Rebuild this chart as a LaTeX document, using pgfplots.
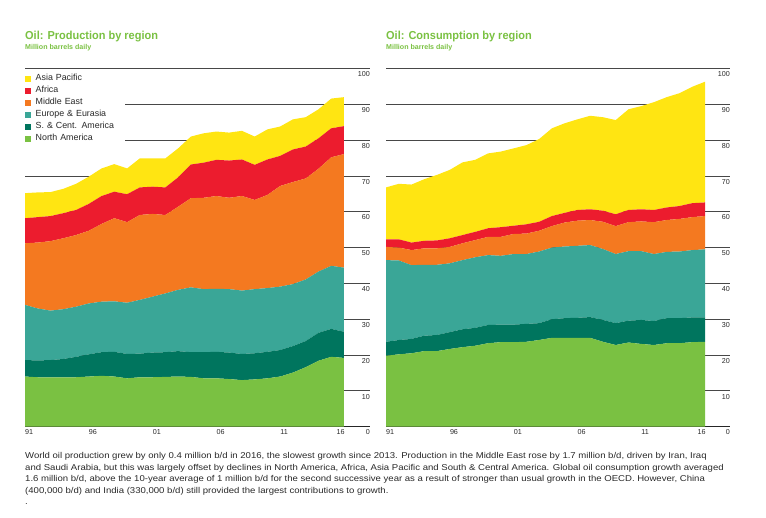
\documentclass[border=0pt]{standalone}
\usepackage{fontspec}
\setmainfont{Liberation Sans}
\newfontfamily\titlefont[FakeStretch=0.95]{Liberation Sans}
\newfontfamily\capfont[FakeStretch=1.13]{Liberation Sans}
\usepackage{pgfplots}
\usepackage{pgfplotstable}
\pgfplotsset{compat=1.18}

\definecolor{cAP}{RGB}{255,229,18}
\definecolor{cAF}{RGB}{236,28,46}
\definecolor{cME}{RGB}{244,121,32}
\definecolor{cEE}{RGB}{58,166,151}
\definecolor{cSCA}{RGB}{0,117,94}
\definecolor{cNA}{RGB}{122,193,66}
\definecolor{ctitle}{RGB}{122,193,66}
\definecolor{ctext}{RGB}{40,40,40}

\pgfplotstableread{
year na sca ee me af ap
1991 14.0 4.6 15.4 17.2 7.0 7.0
1992 13.8 4.7 14.5 18.4 7.1 6.9
1993 13.8 4.8 13.8 19.4 7.0 6.7
1994 13.8 5.1 13.9 19.8 7.0 6.8
1995 13.8 5.7 14.0 20.0 7.0 7.3
1996 14.0 6.2 14.2 20.3 7.5 7.6
1997 14.2 6.6 14.1 21.7 7.8 7.7
1998 14.0 6.9 14.1 23.2 7.4 7.7
1999 13.5 6.8 14.3 22.5 7.8 7.2
2000 13.8 6.6 15.0 23.7 7.7 8.1
2001 13.8 6.9 15.6 23.1 7.6 7.9
2002 13.9 6.9 16.4 21.9 7.7 8.1
2003 14.0 7.1 17.1 23.2 8.2 8.1
2004 13.9 6.9 18.1 24.9 9.4 7.8
2005 13.5 7.3 17.6 25.5 9.8 8.2
2006 13.5 7.4 17.6 25.9 10.1 7.9
2007 13.3 7.4 17.7 25.5 10.4 7.8
2008 13.0 7.3 17.7 26.4 10.2 8.0
2009 13.2 7.3 17.9 24.9 9.8 7.9
2010 13.5 7.4 17.8 26.0 9.9 8.4
2011 14.0 7.4 17.7 28.1 8.4 8.2
2012 15.1 7.4 17.3 28.5 9.1 8.4
2013 16.6 7.3 17.2 28.2 8.9 8.2
2014 18.4 7.8 17.1 28.7 8.5 8.1
2015 19.5 7.8 17.6 30.3 8.1 8.3
2016 19.2 7.3 17.9 31.7 7.8 8.1
}\prodtable

\pgfplotstableread{
year na sca ee me af ap
1991 19.8 3.9 22.8 3.7 2.1 14.5
1992 20.2 4.0 22.2 3.6 2.3 15.5
1993 20.5 4.0 20.6 4.2 2.1 16.2
1994 21.1 4.3 19.8 4.6 2.1 17.2
1995 21.1 4.5 19.6 4.6 2.2 18.3
1996 21.7 4.7 19.2 4.6 2.4 19.1
1997 22.2 5.0 19.3 4.7 2.3 20.3
1998 22.6 5.0 19.7 4.8 2.3 20.1
1999 23.3 5.1 19.5 5.1 2.4 20.9
2000 23.6 4.9 19.2 5.3 2.7 21.1
2001 23.6 4.9 19.7 5.6 2.3 21.6
2002 23.7 5.0 19.5 5.7 2.6 22.1
2003 24.2 4.7 20.0 5.8 2.5 23.1
2004 24.8 5.2 20.0 6.0 2.8 24.5
2005 24.8 5.5 20.0 6.7 2.7 25.0
2006 24.8 5.6 20.1 7.0 3.0 25.3
2007 24.8 5.8 20.1 7.0 3.0 26.1
2008 23.7 6.1 19.8 7.6 3.1 26.1
2009 22.8 6.1 19.3 7.8 3.3 26.3
2010 23.5 6.1 19.4 8.1 3.4 28.1
2011 23.1 6.7 19.2 8.3 3.4 28.8
2012 22.8 6.7 18.7 8.9 3.4 30.1
2013 23.3 7.0 18.5 8.9 3.5 30.8
2014 23.3 7.0 18.6 9.1 3.6 31.5
2015 23.6 6.9 18.8 9.2 3.9 32.5
2016 23.7 6.8 19.0 9.3 3.8 33.7
}\constable

\pgfplotsset{
  oilaxis/.style={
    scale only axis,
    height=358.2bp,
    xmin=1991, ymin=0, ymax=100,
    clip=false,
    stack plots=y,
    axis x line*=bottom, axis y line*=right,
    x axis line style={draw=none},
    y axis line style={draw=none},
    xtick={1991,1996,2001,2006,2011,2016},
    xticklabels={91,96,01,06,11,\llap{16}},
    ytick={0,10,...,100},
    major tick length=0pt,
    ymajorgrids,
    major grid style={line width=0.75bp, color=black!72},
    /pgf/number format/assume math mode=true,
    xticklabel style={anchor=north west, font=\fontsize{7.2}{8}\selectfont, text=ctext, inner sep=0pt, yshift=-3bp},
    yticklabel style={anchor=north east, font=\fontsize{7.2}{8}\selectfont, text=ctext, inner sep=0pt, yshift=-3bp},
  },
  area/.style={fill=#1, draw=none},
}

\begin{document}
\begin{tikzpicture}[x=1bp,y=1bp]
\path[use as bounding box] (0,0) rectangle (766,518);

% titles
\node[anchor=base west, inner sep=0pt, text=ctitle] at (25,478.7) {\titlefont\fontsize{11.6}{13}\selectfont\bfseries Oil: Production by region};
\node[anchor=base west, inner sep=0pt, text=ctitle] at (25,468.5) {\fontsize{7.1}{8}\selectfont\bfseries Million barrels daily};
\node[anchor=base west, inner sep=0pt, text=ctitle] at (386,478.7) {\titlefont\fontsize{11.6}{13}\selectfont\bfseries Oil: Consumption by region};
\node[anchor=base west, inner sep=0pt, text=ctitle] at (386,468.5) {\fontsize{7.1}{8}\selectfont\bfseries Million barrels daily};

\begin{axis}[oilaxis,
  at={(25bp,91.3bp)}, anchor=south west,
  width=345bp, xmax=2018.04,
  reverse legend,
  legend cell align=left,
  legend image code/.code={\fill[#1] (0bp,-2.8bp) rectangle (6bp,2.8bp);},
  legend style={at={(0,0.99)}, anchor=north west, draw=none, fill=white,
    inner xsep=0pt, inner ysep=2bp, row sep=3bp, column sep=4.5bp,
    font=\fontsize{8.9}{10}\selectfont, text=ctext,
    nodes={inner sep=0pt, text height=6.5bp, text depth=2.5bp},
    /tikz/every even column/.append style={nodes={text width=89bp}}},
]
\addplot[area=cNA] table[x=year,y=na] {\prodtable} \closedcycle;
\addlegendentry{North America}
\addplot[area=cSCA] table[x=year,y=sca] {\prodtable} \closedcycle;
\addlegendentry{S. \& Cent. America}
\addplot[area=cEE] table[x=year,y=ee] {\prodtable} \closedcycle;
\addlegendentry{Europe \& Eurasia}
\addplot[area=cME] table[x=year,y=me] {\prodtable} \closedcycle;
\addlegendentry{Middle East}
\addplot[area=cAF] table[x=year,y=af] {\prodtable} \closedcycle;
\addlegendentry{Africa}
\addplot[area=cAP] table[x=year,y=ap] {\prodtable} \closedcycle;
\addlegendentry{Asia Pacific}
\draw[line width=1.3bp, black!85] (rel axis cs:0,0) -- (rel axis cs:1,0);
\end{axis}

\begin{axis}[oilaxis,
  at={(386bp,91.3bp)}, anchor=south west,
  width=344bp, xmax=2017.96,
]
\addplot[area=cNA] table[x=year,y=na] {\constable} \closedcycle;
\addplot[area=cSCA] table[x=year,y=sca] {\constable} \closedcycle;
\addplot[area=cEE] table[x=year,y=ee] {\constable} \closedcycle;
\addplot[area=cME] table[x=year,y=me] {\constable} \closedcycle;
\addplot[area=cAF] table[x=year,y=af] {\constable} \closedcycle;
\addplot[area=cAP] table[x=year,y=ap] {\constable} \closedcycle;
\draw[line width=1.3bp, black!85] (rel axis cs:0,0) -- (rel axis cs:1,0);
\end{axis}

% caption
\node[anchor=north west, inner sep=0pt, text=ctext, align=left, font=\capfont\fontsize{8.5}{11.5}\selectfont] at (25,65.5) {World oil production grew by only 0.4 million b/d in 2016, the slowest growth since 2013. Production in the Middle East rose by 1.7 million b/d, driven by Iran, Iraq\\
and Saudi Arabia, but this was largely offset by declines in North America, Africa, Asia Pacific and South \& Central America. Global oil consumption growth averaged\\
1.6 million b/d, above the 10-year average of 1 million b/d for the second successive year as a result of stronger than usual growth in the OECD. However, China\\
(400,000 b/d) and India (330,000 b/d) still provided the largest contributions to growth.\\
.};
\end{tikzpicture}
\end{document}
